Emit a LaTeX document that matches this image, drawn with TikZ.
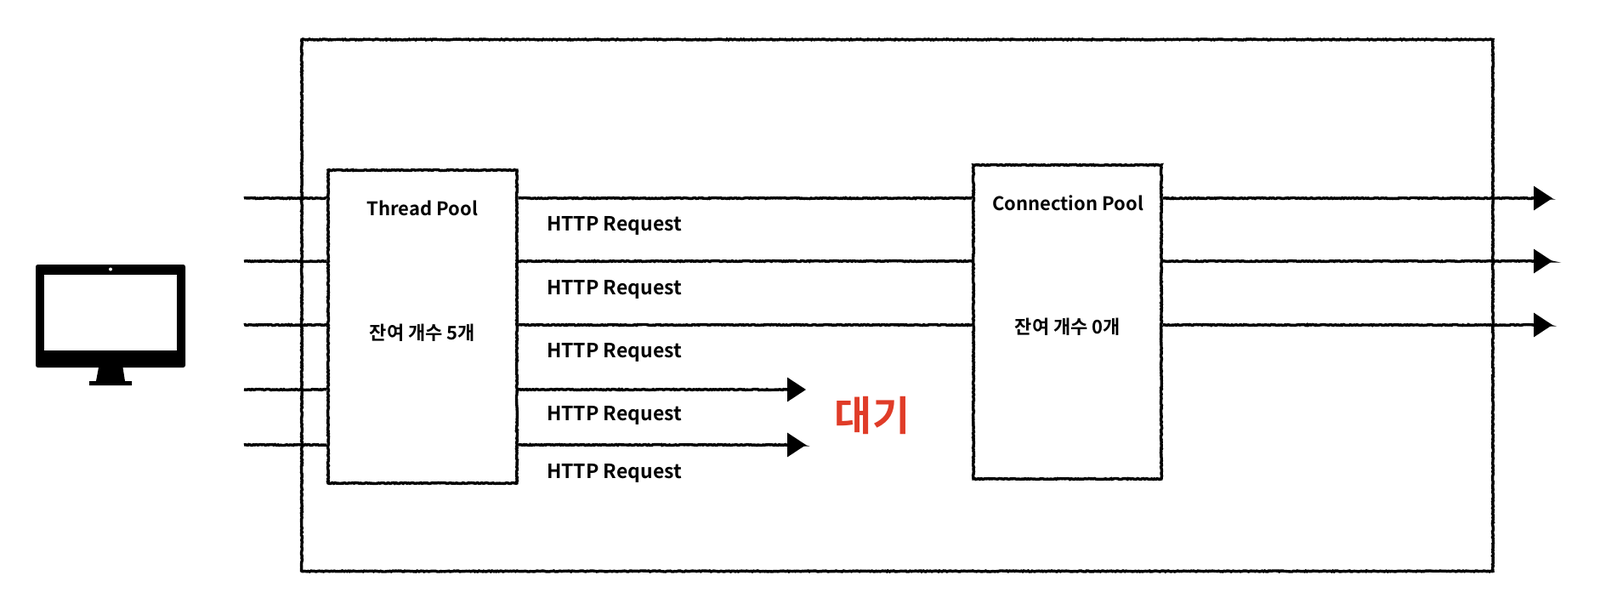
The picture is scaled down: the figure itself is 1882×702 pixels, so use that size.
\documentclass[tikz,border=0pt]{standalone}
\usepackage{fontspec}
\usetikzlibrary{arrows.meta,decorations.pathmorphing}
\setmainfont{Noto Sans CJK KR Bold}
\definecolor{waitred}{HTML}{E03C28}
\tikzset{
  x=1pt,y=-1pt,
  rough/.style={decorate,decoration={random steps,segment length=1.6pt,amplitude=0.55pt}},
  roughline/.style={draw=black,line width=3.4pt,rough},
  box/.style={roughline,rectangle,inner sep=0pt,minimum width=#1,fill=white},
  arrowline/.style={draw=black,line width=3.4pt,
    decorate,decoration={random steps,segment length=1.6pt,amplitude=0.55pt,post=lineto,post length=6pt},
    -{Triangle[length=22pt,width=28pt]}},
  lbl/.style={font=\fontsize{22}{24}\selectfont,inner sep=0pt,anchor=center},
  req/.style={font=\fontsize{23}{25}\selectfont,inner sep=0pt,anchor=west},
  monitor/.style={fill=black,draw=none}
}
\begin{document}
\begin{tikzpicture}
\useasboundingbox (0,0) rectangle (1882,702);
% outer
\node[roughline,rectangle,inner sep=0pt,minimum width=1401pt,minimum height=625pt] (outer) at (1055.5,359) {};
% pools
\node[box=222pt,minimum height=368pt] (tp) at (497,384) {};
\node[box=221pt,minimum height=369pt] (cp) at (1255.5,378.5) {};
\node[lbl] (tpname) at (497,245) {Thread Pool};
\node[lbl] (tpleft) at (497,391) {잔여 개수 5개};
\node[lbl] (cpname) at (1256,239) {Connection Pool};
\node[lbl] (cpleft) at (1256,384) {잔여 개수 0개};
% incoming
\coordinate (i1) at (287,233);
\coordinate (i2) at (287,307);
\coordinate (i3) at (287,382);
\coordinate (i4) at (287,458);
\coordinate (i5) at (287,523);
\foreach \n in {1,...,5}{\draw[roughline] (i\n) -- (i\n -| tp.west);}
% thread to connection
\foreach \n in {1,2,3}{\draw[roughline] (i\n -| tp.east) -- (i\n -| cp.west);}
% blocked
\coordinate (w4) at (948,458);
\coordinate (w5) at (948,523);
\draw[arrowline] (w4 -| tp.east) -- (w4);
\draw[arrowline] (w5 -| tp.east) -- (w5);
% out
\coordinate (o1) at (1826,233);
\coordinate (o2) at (1826,307);
\coordinate (o3) at (1826,382);
\foreach \n in {1,2,3}{\draw[arrowline] (o\n -| cp.east) -- (o\n);}
% labels
\node[req] (r1) at (643,265) {HTTP Request};
\node[req] (r2) at (643,340) {HTTP Request};
\node[req] (r3) at (643,414) {HTTP Request};
\node[req] (r4) at (643,488) {HTTP Request};
\node[req] (r5) at (643,556) {HTTP Request};
\node[font=\fontsize{48}{50}\selectfont,text=waitred,inner sep=0pt] (wait) at (1026,488) {대기};
% monitor
\node[monitor,rectangle,rounded corners=2.5pt,minimum width=176pt,minimum height=121pt,inner sep=0pt] (mon) at (130,371.5) {};
\node[fill=white,rectangle,minimum width=156pt,minimum height=89pt,inner sep=0pt] (scr) at (130,367.5) {};
\node[fill=white,circle,minimum size=4pt,inner sep=0pt] (cam) at (130,316.5) {};
\fill[black] (116,432) -- (144.5,432) -- (147,448) -- (155,448) -- (155,453) -- (105,453) -- (105,448) -- (113,448) -- cycle;
\end{tikzpicture}
\end{document}
